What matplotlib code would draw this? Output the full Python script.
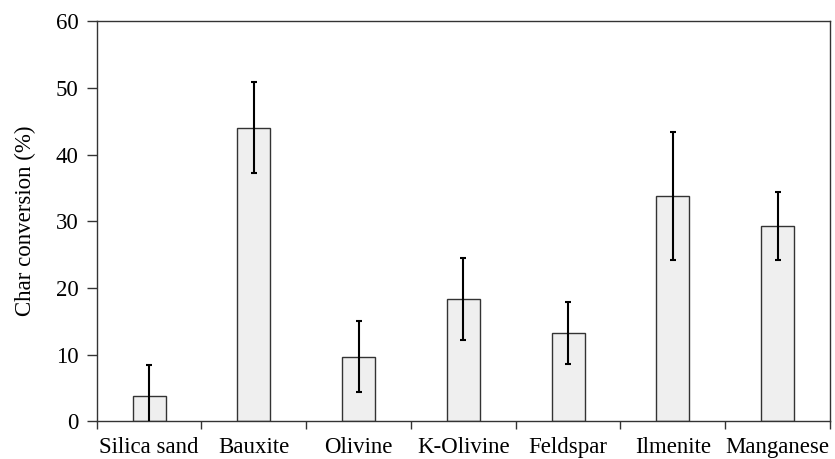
import matplotlib.pyplot as plt
import numpy as np

materials = ['Silica sand', 'Bauxite', 'Olivine', 'K-Olivine', 'Feldspar', 'Ilmenite', 'Manganese']
conversion = [3.8, 44.0, 9.7, 18.3, 13.3, 33.8, 29.3]
error = [4.6, 6.8, 5.35, 6.15, 4.65, 9.55, 5.05]

plt.rcParams['font.family'] = ['Liberation Serif']

fig = plt.figure(figsize=(8.35, 4.59), dpi=100)
ax = fig.add_axes([0.1158, 0.0821, 0.994 - 0.1158, 0.954 - 0.0821])

x = np.arange(len(materials))
ax.bar(x, conversion, width=0.315, color='#efefef', edgecolor='#333333', linewidth=1.0, zorder=2)
ax.errorbar(x, conversion, yerr=error, fmt='none', ecolor='black', elinewidth=1.5,
            capsize=2.5, capthick=1.5, zorder=3)

ax.set_xlim(-0.5, len(materials) - 0.5)
ax.set_ylim(0, 60)
ax.set_yticks(range(0, 61, 10))
ax.set_xticks(np.arange(-0.5, len(materials), 1.0))
ax.set_xticklabels([])
ax.set_xticks(x, minor=True)
ax.set_xticklabels(materials, minor=True)
ax.tick_params(axis='x', which='minor', length=0, labelsize=16.5, pad=11)
ax.tick_params(axis='x', which='major', length=6, width=1, color='#333333')
ax.tick_params(axis='y', length=7, width=1, color='#333333', labelsize=16.5, pad=6)
ax.set_ylabel('Char conversion (%)', fontsize=16.5, labelpad=14)

for s in ax.spines.values():
    s.set_color('#333333')
    s.set_linewidth(1.0)

fig.savefig('out.png', dpi=100)
